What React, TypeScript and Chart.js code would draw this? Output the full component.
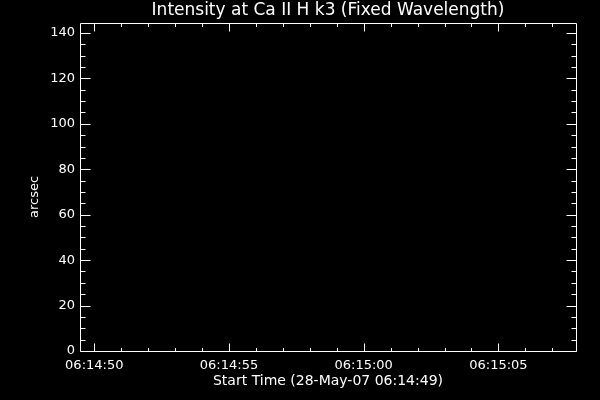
import React, { useEffect, useRef } from "react";
import { Chart, registerables } from "chart.js";

Chart.register(...registerables);

// ---- Chart content ----
const chartTitle = "Intensity at Ca II H k3 (Fixed Wavelength)";
const xAxisTitle = "Start Time (28-May-07 06:14:49)";
const yAxisTitle = "arcsec";

// x values are seconds after 06:14:00
const baseHour = 6;
const baseMinute = 14;
const xTickSeconds = [50, 55, 60, 65];
const xMinorStep = 1;
const xRange = [49.47, 67.88];

const yTickValues = [0, 20, 40, 60, 80, 100, 120, 140];
const yMinorStep = 5;
const yRange = [0, 144.4];

// the plot holds no data
const timeSeconds: number[] = [];
const intensityValues: number[] = [];

const FONT = "DejaVu Sans";

function formatClock(sec: number): string {
  const total = Math.round(baseHour * 3600 + baseMinute * 60 + sec);
  const h = Math.floor(total / 3600);
  const m = Math.floor((total % 3600) / 60);
  const s = total % 60;
  const p = (n: number) => String(n).padStart(2, "0");
  return `${p(h)}:${p(m)}:${p(s)}`;
}

const idlFramePlugin = {
  id: "idlFrame",
  beforeDraw(chart: any) {
    const ctx = chart.ctx;
    ctx.save();
    ctx.fillStyle = "#000";
    ctx.fillRect(0, 0, chart.width, chart.height);
    ctx.restore();
  },
  afterDraw(chart: any) {
    const ctx = chart.ctx;
    const { left, right, top, bottom } = chart.chartArea;
    const xs = chart.scales.x;
    const ys = chart.scales.y;
    const L = Math.floor(left) + 0.5;
    const R = Math.floor(right) + 0.5;
    const T = Math.floor(top) + 0.5;
    const B = Math.floor(bottom) + 0.5;
    ctx.save();
    ctx.strokeStyle = "#fff";
    ctx.lineWidth = 1;
    ctx.beginPath();
    ctx.rect(L, T, R - L, B - T);
    // x ticks
    const xMajor = new Set(xTickSeconds);
    for (let v = Math.ceil(xRange[0]); v <= xRange[1]; v += xMinorStep) {
      const px = Math.round(xs.getPixelForValue(v)) + 0.5;
      const major = xMajor.has(v);
      const len = major ? 8 : 3.5;
      ctx.moveTo(px, B);
      ctx.lineTo(px, B - len);
      ctx.moveTo(px, T);
      ctx.lineTo(px, T + len);
    }
    // y ticks
    const yMajor = new Set(yTickValues);
    for (let v = Math.ceil(yRange[0] / yMinorStep) * yMinorStep; v <= yRange[1]; v += yMinorStep) {
      const py = Math.round(ys.getPixelForValue(v)) + 0.5;
      const major = yMajor.has(v);
      const len = major ? 10 : 5;
      ctx.moveTo(L, py);
      ctx.lineTo(L + len, py);
      ctx.moveTo(R, py);
      ctx.lineTo(R - len, py);
    }
    ctx.stroke();

    ctx.fillStyle = "#fff";
    ctx.textAlign = "center";
    ctx.textBaseline = "middle";
    const cx = (left + right) / 2;
    ctx.font = `17px "${FONT}"`;
    ctx.fillText(chartTitle, cx, 11);
    ctx.font = `14px "${FONT}"`;
    ctx.fillText(xAxisTitle, cx, 381);
    ctx.save();
    ctx.translate(35, 197);
    ctx.rotate(-Math.PI / 2);
    ctx.font = `13px "${FONT}"`;
    ctx.fillText(yAxisTitle, 0, 0);
    ctx.restore();
    ctx.restore();
  },
};

export default function App() {
  const canvasRef = useRef<HTMLCanvasElement | null>(null);

  useEffect(() => {
    const canvas = canvasRef.current;
    if (!canvas) return;
    const chart = new Chart(canvas, {
      type: "scatter",
      data: {
        datasets: [
          {
            data: timeSeconds.map((t, i) => ({ x: t, y: intensityValues[i] })),
            showLine: true,
            borderColor: "#fff",
            borderWidth: 1,
            pointRadius: 0,
          },
        ],
      },
      options: {
        animation: false,
        responsive: false,
        devicePixelRatio: 1,
        layout: { padding: { top: 23, right: 24, left: 0, bottom: 0 } },
        plugins: {
          legend: { display: false },
          tooltip: { enabled: false },
          title: { display: false },
        },
        scales: {
          x: {
            type: "linear",
            position: "bottom",
            min: xRange[0],
            max: xRange[1],
            grid: { display: false, drawTicks: false },
            border: { display: false },
            afterBuildTicks: (s: any) => {
              s.ticks = xTickSeconds.map((v) => ({ value: v }));
            },
            afterFit: (s: any) => {
              s.height = 49;
            },
            ticks: {
              color: "#fff",
              padding: 7,
              maxRotation: 0,
              autoSkip: false,
              font: { family: FONT, size: 13 },
              callback: (v: any) => formatClock(Number(v)),
            },
          },
          y: {
            type: "linear",
            position: "left",
            min: yRange[0],
            max: yRange[1],
            grid: { display: false, drawTicks: false },
            border: { display: false },
            afterBuildTicks: (s: any) => {
              s.ticks = yTickValues.map((v) => ({ value: v }));
            },
            afterFit: (s: any) => {
              s.width = 80;
            },
            ticks: {
              color: "#fff",
              padding: 5,
              autoSkip: false,
              font: { family: FONT, size: 13 },
              callback: (v: any) => String(v),
            },
          },
        },
      },
      plugins: [idlFramePlugin],
    });
    return () => chart.destroy();
  }, []);

  return (
    <div
      style={{
        position: "fixed",
        left: 0,
        top: 0,
        width: 600,
        height: 400,
        background: "#000",
      }}
    >
      <canvas ref={canvasRef} width={600} height={400} style={{ display: "block" }} />
    </div>
  );
}
